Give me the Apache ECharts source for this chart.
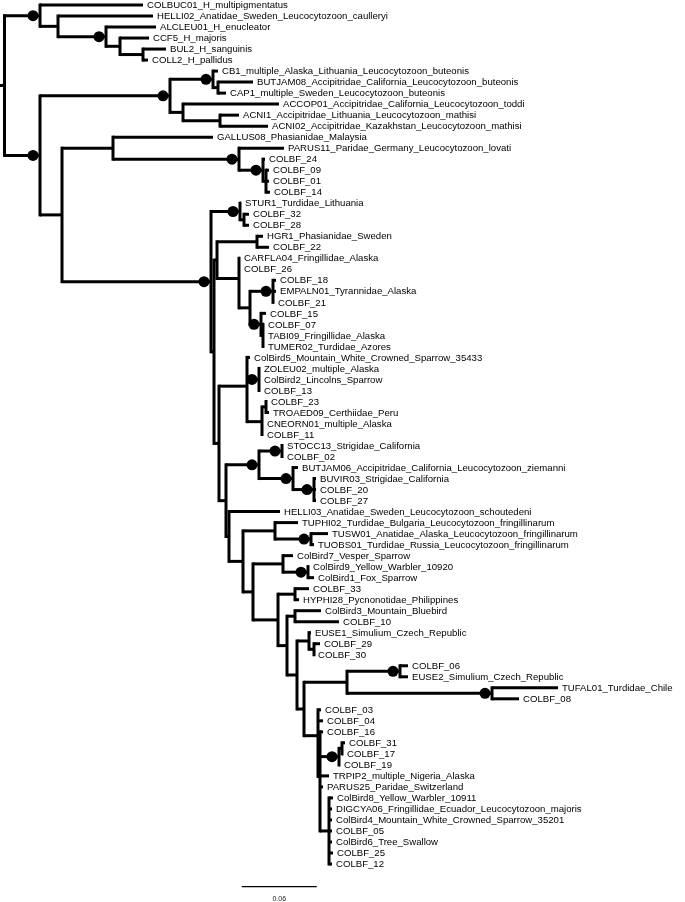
<!DOCTYPE html>
<html><head><meta charset="utf-8">
<script src="https://cdn.jsdelivr.net/npm/echarts@6/dist/echarts.min.js"></script>
<style>html,body{margin:0;padding:0;background:#fff}#chart{width:685px;height:902px}</style>
</head><body><div id="chart"></div>
<script>
// ---- tree data (preorder; tips are nodes without children) ----
const nodeIds = [
'R',
'A','COLBUC01_H_multipigmentatus','B','HELLI02_Anatidae_Sweden_Leucocytozoon_caulleryi','C','ALCLEU01_H_enucleator','D','CCF5_H_majoris','E','BUL2_H_sanguinis','COLL2_H_pallidus',
'F','G','M','CB1_multiple_Alaska_Lithuania_Leucocytozoon_buteonis','M2','BUTJAM08_Accipitridae_California_Leucocytozoon_buteonis','CAP1_multiple_Sweden_Leucocytozoon_buteonis','N','ACCOP01_Accipitridae_California_Leucocytozoon_toddi','O','ACNI1_Accipitridae_Lithuania_Leucocytozoon_mathisi','ACNI02_Accipitridae_Kazakhstan_Leucocytozoon_mathisi',
'H','I','GALLUS08_Phasianidae_Malaysia','J','PARUS11_Paridae_Germany_Leucocytozoon_lovati','K','COLBF_24','K2','COLBF_09','COLBF_01','COLBF_14',
'L','Q','STUR1_Turdidae_Lithuania','Q2','COLBF_32','COLBF_28',
'L2','V','S','HGR1_Phasianidae_Sweden','COLBF_22','T','CARFLA04_Fringillidae_Alaska','COLBF_26','T3','T1','COLBF_18','EMPALN01_Tyrannidae_Alaska','COLBF_21','T2','COLBF_15','T2b','COLBF_07','TABI09_Fringillidae_Alaska','TUMER02_Turdidae_Azores',
'Y','X','ColBird5_Mountain_White_Crowned_Sparrow_35433','X1','ZOLEU02_multiple_Alaska','ColBird2_Lincolns_Sparrow','COLBF_13','X2','X2a','COLBF_23','TROAED09_Certhiidae_Peru','CNEORN01_multiple_Alaska','COLBF_11',
'Z','AA','AD','STOCC13_Strigidae_California','COLBF_02','AE','BUTJAM06_Accipitridae_California_Leucocytozoon_ziemanni','AF','BUVIR03_Strigidae_California','COLBF_20','COLBF_27',
'Z2','HELLI03_Anatidae_Sweden_Leucocytozoon_schoutedeni','AK','AG','TUPHI02_Turdidae_Bulgaria_Leucocytozoon_fringillinarum','AH','TUSW01_Anatidae_Alaska_Leucocytozoon_fringillinarum','TUOBS01_Turdidae_Russia_Leucocytozoon_fringillinarum',
'AM','AI','ColBird7_Vesper_Sparrow','AJ','ColBird9_Yellow_Warbler_10920','ColBird1_Fox_Sparrow',
'AN','AO','COLBF_33','HYPHI28_Pycnonotidae_Philippines','AN2','AP','ColBird3_Mountain_Bluebird','COLBF_10','AN3','AQ','EUSE1_Simulium_Czech_Republic','AR','COLBF_29','COLBF_30',
'AN4','AS','AT','COLBF_06','EUSE2_Simulium_Czech_Republic','AU','TUFAL01_Turdidae_Chile','COLBF_08',
'AV','COLBF_03','COLBF_04','AV2','COLBF_16','AY','AY2','COLBF_31','COLBF_17','COLBF_19','TRPIP2_multiple_Nigeria_Alaska','PARUS25_Paridae_Switzerland','AX','ColBird8_Yellow_Warbler_10911','DIGCYA06_Fringillidae_Ecuador_Leucocytozoon_majoris','ColBird4_Mountain_White_Crowned_Sparrow_35201','COLBF_05','ColBird6_Tree_Swallow','COLBF_25','COLBF_12'
];
const nodeParents = [
'',
'R','A','A','B','B','C','C','D','D','E','E',
'R','F','G','M','M','M2','M2','G','N','N','O','O',
'F','H','I','I','J','J','K','K','K2','K2','K2',
'H','L','Q','Q','Q2','Q2',
'L','L2','V','S','S','V','T','T','T','T3','T1','T1','T1','T3','T2','T2','T2b','T2b','T2b',
'L2','Y','X','X','X1','X1','X1','X','X2','X2a','X2a','X2','X2',
'Y','Z','AA','AD','AD','AA','AE','AE','AF','AF','AF',
'Z','Z2','Z2','AK','AG','AG','AH','AH',
'AK','AM','AI','AI','AJ','AJ',
'AM','AN','AO','AO','AN','AN2','AP','AP','AN2','AN3','AQ','AQ','AR','AR',
'AN3','AN4','AS','AT','AT','AS','AU','AU',
'AN4','AV','AV','AV','AV2','AV2','AY','AY2','AY2','AY','AV2','AV2','AV2','AX','AX','AX','AX','AX','AX','AX'
];
// distance from the origin of the drawing (root edge included), substitutions/site
const nodeDepths = [
0.0036,
0.032,0.1144,0.0464,0.1224,0.0848,0.1248,0.096,0.1192,0.1144,0.1328,0.1184,
0.032,0.136,0.1704,0.1744,0.1744,0.2024,0.1808,0.1464,0.2232,0.176,0.1912,0.2144,
0.0496,0.0904,0.1704,0.1912,0.2272,0.2104,0.212,0.2128,0.2152,0.2152,0.216,
0.1688,0.192,0.1928,0.1952,0.1992,0.1992,
0.1712,0.1736,0.2056,0.2104,0.2152,0.1912,0.192,0.192,0.2,0.2184,0.2208,0.2208,0.2192,0.2088,0.2128,0.2104,0.2112,0.2112,0.2112,
0.1752,0.1976,0.2,0.2072,0.208,0.208,0.208,0.2096,0.2128,0.2136,0.2152,0.2104,0.2104,
0.1808,0.2072,0.2256,0.2264,0.2264,0.2344,0.2384,0.2512,0.2528,0.2528,0.2528,
0.1832,0.224,0.1944,0.22,0.2384,0.2488,0.2624,0.2512,
0.2024,0.2264,0.2344,0.2464,0.2472,0.2512,
0.2224,0.236,0.2472,0.2392,0.2296,0.236,0.2568,0.2712,0.2376,0.2472,0.2488,0.2512,0.256,0.2512,
0.2432,0.2776,0.32,0.3264,0.3264,0.3936,0.4464,0.4152,
0.2544,0.2568,0.2584,0.256,0.2584,0.2712,0.2736,0.276,0.2744,0.272,0.2632,0.2584,0.2632,0.2664,0.2656,0.2656,0.2656,0.2656,0.2664,0.2656
];
const supportedNodes = ['A','C','F','G','M','J','K','L','Q','T1','T2','X1','AA','AD','AE','AF','AH','AJ','AT','AU','AY'];
const scaleBarLength = 0.06;
const scaleBarLabel = '0.06';

// ---- layout of the tree from the data ----
const N = nodeIds.length;
const index = {};
nodeIds.forEach((id, i) => { index[id] = i; });
const kids = nodeIds.map(() => []);
nodeParents.forEach((p, i) => { if (p !== '') kids[index[p]].push(i); });
const rowOf = new Array(N);
let nextRow = 0;
function place(i) {
  if (!kids[i].length) { rowOf[i] = nextRow++; return rowOf[i]; }
  let s = 0;
  kids[i].forEach(c => { s += place(c); });
  rowOf[i] = s / kids[i].length;
  return rowOf[i];
}
const rootIndex = nodeParents.indexOf('');
place(rootIndex);
const nTips = nextRow;

const edgeData = nodeIds.map((id, i) => {
  const par = nodeParents[i] === '' ? 0 : nodeDepths[index[nodeParents[i]]];
  const ks = kids[i];
  const lo = ks.length ? Math.min(...ks.map(k => rowOf[k])) : rowOf[i];
  const hi = ks.length ? Math.max(...ks.map(k => rowOf[k])) : rowOf[i];
  return [nodeDepths[i], rowOf[i], par, lo, hi, ks.length ? 0 : 1];
});
const dotData = supportedNodes.map(id => [nodeDepths[index[id]], rowOf[index[id]]]);

const LW = 3;
const LABEL_FONT = '9.6px "Liberation Sans", Arial, sans-serif';

const chart = echarts.init(document.getElementById('chart'), null, {renderer: 'canvas'});
chart.setOption({
  animation: false,
  backgroundColor: '#fff',
  grid: {left: 0, right: 0, top: 5, bottom: 38},
  xAxis: {type: 'value', min: 0, max: 0.548, show: false},
  yAxis: {type: 'value', inverse: true, min: 0, max: nTips - 1, show: false},
  series: [
    {
      type: 'custom',
      clip: false,
      data: edgeData,
      renderItem: function (params, api) {
        const i = params.dataIndex;
        const p = api.coord([api.value(0), api.value(1)]);
        const q = api.coord([api.value(2), api.value(1)]);
        const items = [{
          type: 'line',
          shape: {x1: q[0], y1: p[1], x2: p[0], y2: p[1]},
          style: {stroke: '#000', lineWidth: LW, lineCap: 'butt'}
        }];
        if (api.value(5) === 0) {
          const a = api.coord([api.value(0), api.value(3)]);
          const b = api.coord([api.value(0), api.value(4)]);
          items.push({
            type: 'line',
            shape: {x1: p[0], y1: a[1] - LW / 2, x2: p[0], y2: b[1] + LW / 2},
            style: {stroke: '#000', lineWidth: LW, lineCap: 'butt'}
          });
        } else {
          items.push({
            type: 'text',
            style: {text: nodeIds[i], x: p[0] + 4, y: p[1] + 0.5, fill: '#000',
                    font: LABEL_FONT, align: 'left', verticalAlign: 'middle'}
          });
        }
        return {type: 'group', children: items};
      }
    },
    {
      type: 'scatter',
      data: dotData,
      symbol: 'circle',
      symbolSize: 11,
      symbolOffset: [-7, 0],
      itemStyle: {color: '#000', opacity: 1},
      emphasis: {disabled: true},
      silent: true,
      z: 5
    },
    {
      type: 'custom',
      clip: false,
      data: [[0.1934, nTips + 1.05]],
      renderItem: function (params, api) {
        const a = api.coord([api.value(0), api.value(1)]);
        const b = api.coord([api.value(0) + scaleBarLength, api.value(1)]);
        return {type: 'group', children: [
          {type: 'line', shape: {x1: a[0], y1: a[1], x2: b[0], y2: b[1]},
           style: {stroke: '#000', lineWidth: 1.3}},
          {type: 'text', style: {text: scaleBarLabel, x: (a[0] + b[0]) / 2, y: a[1] + 12.5,
           fill: '#222', font: '7px "Liberation Sans", Arial, sans-serif', align: 'center', verticalAlign: 'middle'}}
        ]};
      }
    }
  ]
});
</script></body></html>
